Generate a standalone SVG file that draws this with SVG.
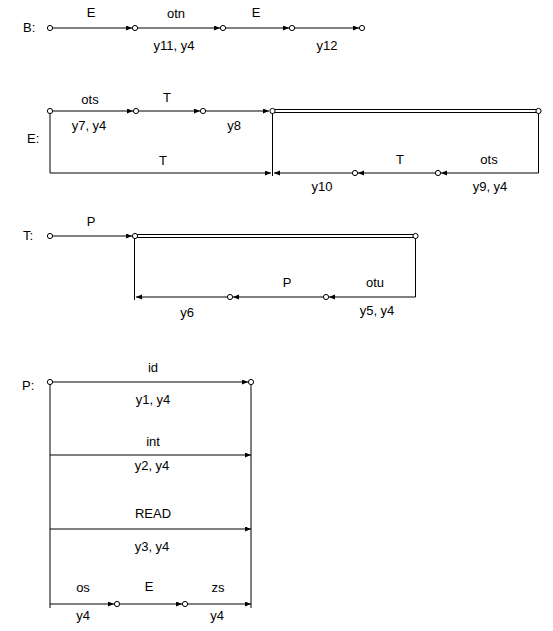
<svg xmlns="http://www.w3.org/2000/svg" width="553" height="631" viewBox="0 0 553 631">
<defs>
<marker id="arr" markerUnits="userSpaceOnUse" markerWidth="7" markerHeight="6" refX="6" refY="2.5" orient="auto">
<path d="M0,0 L6,2.5 L0,5 z" fill="#000"/>
</marker>
<style>
.c{stroke:#000;stroke-width:1;fill:none}
.a{marker-end:url(#arr)}
.dbl{stroke:#000;stroke-width:4;fill:none}
.dbw{stroke:#fff;stroke-width:2;fill:none}
.n{fill:#fff;stroke:#000;stroke-width:1}
text{font-family:"Liberation Sans",Arial,sans-serif;font-size:13px;fill:#000}
.m{text-anchor:middle}
</style>
</defs>
<rect width="553" height="631" fill="#fff"/>
<g id="connectors">
<!-- B -->
<line class="c a" x1="50" y1="28" x2="132" y2="28"/>
<line class="c a" x1="135" y1="28" x2="220" y2="28"/>
<line class="c a" x1="223" y1="28" x2="289" y2="28"/>
<line class="c a" x1="292" y1="28" x2="359" y2="28"/>
<!-- E -->
<line class="c a" x1="50" y1="111" x2="133" y2="111"/>
<line class="c a" x1="136" y1="111" x2="200" y2="111"/>
<line class="c a" x1="203" y1="111" x2="269" y2="111"/>
<line class="dbl" x1="272" y1="111" x2="538" y2="111"/>
<line class="dbw" x1="272" y1="111" x2="538" y2="111"/>
<line class="c" x1="50" y1="111" x2="50" y2="173"/>
<line class="c" x1="272.5" y1="111" x2="272.5" y2="176"/>
<line class="c" x1="538.5" y1="111" x2="538.5" y2="173"/>
<line class="c a" x1="50" y1="173" x2="271" y2="173"/>
<line class="c a" x1="538.5" y1="173" x2="441" y2="173"/>
<line class="c a" x1="438" y1="173" x2="358" y2="173"/>
<line class="c a" x1="355" y1="173" x2="274" y2="173"/>
<!-- T -->
<line class="c a" x1="50" y1="236" x2="132" y2="236"/>
<line class="dbl" x1="135" y1="236" x2="415" y2="236"/>
<line class="dbw" x1="135" y1="236" x2="415" y2="236"/>
<line class="c" x1="134.5" y1="236" x2="134.5" y2="300"/>
<line class="c" x1="415.5" y1="236" x2="415.5" y2="297"/>
<line class="c a" x1="415.5" y1="297" x2="329" y2="297"/>
<line class="c a" x1="326" y1="297" x2="233" y2="297"/>
<line class="c a" x1="230" y1="297" x2="136" y2="297"/>
<!-- P -->
<line class="c a" x1="50" y1="382" x2="248" y2="382"/>
<line class="c" x1="50" y1="382" x2="50" y2="608"/>
<line class="c" x1="251" y1="382" x2="251" y2="608"/>
<line class="c a" x1="50" y1="455" x2="251" y2="455"/>
<line class="c a" x1="50" y1="529" x2="251" y2="529"/>
<line class="c a" x1="50" y1="604" x2="114" y2="604"/>
<line class="c a" x1="117" y1="604" x2="182" y2="604"/>
<line class="c a" x1="185" y1="604" x2="251" y2="604"/>
</g>
<g id="nodes">
<g id="B-n1"><circle class="n" cx="50" cy="28" r="2.6"/></g>
<g id="B-n2"><circle class="n" cx="135" cy="28" r="2.6"/></g>
<g id="B-n3"><circle class="n" cx="223" cy="28" r="2.6"/></g>
<g id="B-n4"><circle class="n" cx="292" cy="28" r="2.6"/></g>
<g id="B-n5"><circle class="n" cx="362" cy="28" r="2.6"/></g>
<g id="E-n1"><circle class="n" cx="50" cy="111" r="2.6"/></g>
<g id="E-n2"><circle class="n" cx="136" cy="111" r="2.6"/></g>
<g id="E-n3"><circle class="n" cx="203" cy="111" r="2.6"/></g>
<g id="E-n4"><circle class="n" cx="272.5" cy="111" r="2.6"/></g>
<g id="E-n5"><circle class="n" cx="538.5" cy="111" r="2.6"/></g>
<g id="E-n6"><circle class="n" cx="438" cy="173" r="2.6"/></g>
<g id="E-n7"><circle class="n" cx="355" cy="173" r="2.6"/></g>
<g id="T-n1"><circle class="n" cx="50" cy="236" r="2.6"/></g>
<g id="T-n2"><circle class="n" cx="135" cy="236" r="2.6"/></g>
<g id="T-n3"><circle class="n" cx="415.5" cy="236" r="2.6"/></g>
<g id="T-n4"><circle class="n" cx="326" cy="297" r="2.6"/></g>
<g id="T-n5"><circle class="n" cx="230" cy="297" r="2.6"/></g>
<g id="P-n1"><circle class="n" cx="50" cy="382" r="2.6"/></g>
<g id="P-n2"><circle class="n" cx="251" cy="382" r="2.6"/></g>
<g id="P-n3"><circle class="n" cx="117" cy="604" r="2.6"/></g>
<g id="P-n4"><circle class="n" cx="185" cy="604" r="2.6"/></g>
</g>
<g id="labels">
<text x="23" y="32">B:</text>
<text class="m" x="91" y="17">E</text>
<text class="m" x="176" y="18">otn</text>
<text class="m" x="256" y="17">E</text>
<text class="m" x="174" y="50">y11, y4</text>
<text class="m" x="327" y="50">y12</text>

<text x="27" y="143">E:</text>
<text class="m" x="90" y="104">ots</text>
<text class="m" x="167" y="102">T</text>
<text class="m" x="89" y="130">y7, y4</text>
<text class="m" x="234" y="130">y8</text>
<text class="m" x="163" y="165">T</text>
<text class="m" x="400" y="164">T</text>
<text class="m" x="489" y="164">ots</text>
<text class="m" x="322" y="191">y10</text>
<text class="m" x="490" y="191">y9, y4</text>

<text x="23" y="240">T:</text>
<text class="m" x="91" y="226">P</text>
<text class="m" x="287" y="287">P</text>
<text class="m" x="375" y="287">otu</text>
<text class="m" x="187" y="317">y6</text>
<text class="m" x="377" y="315">y5, y4</text>

<text x="22" y="390">P:</text>
<text class="m" x="153" y="372">id</text>
<text class="m" x="153" y="404">y1, y4</text>
<text class="m" x="153" y="446">int</text>
<text class="m" x="152" y="470">y2, y4</text>
<text class="m" x="153" y="518">READ</text>
<text class="m" x="152" y="551">y3, y4</text>
<text class="m" x="83" y="592">os</text>
<text class="m" x="149" y="591">E</text>
<text class="m" x="218" y="592">zs</text>
<text class="m" x="83" y="620">y4</text>
<text class="m" x="217" y="620">y4</text>
</g>
</svg>
